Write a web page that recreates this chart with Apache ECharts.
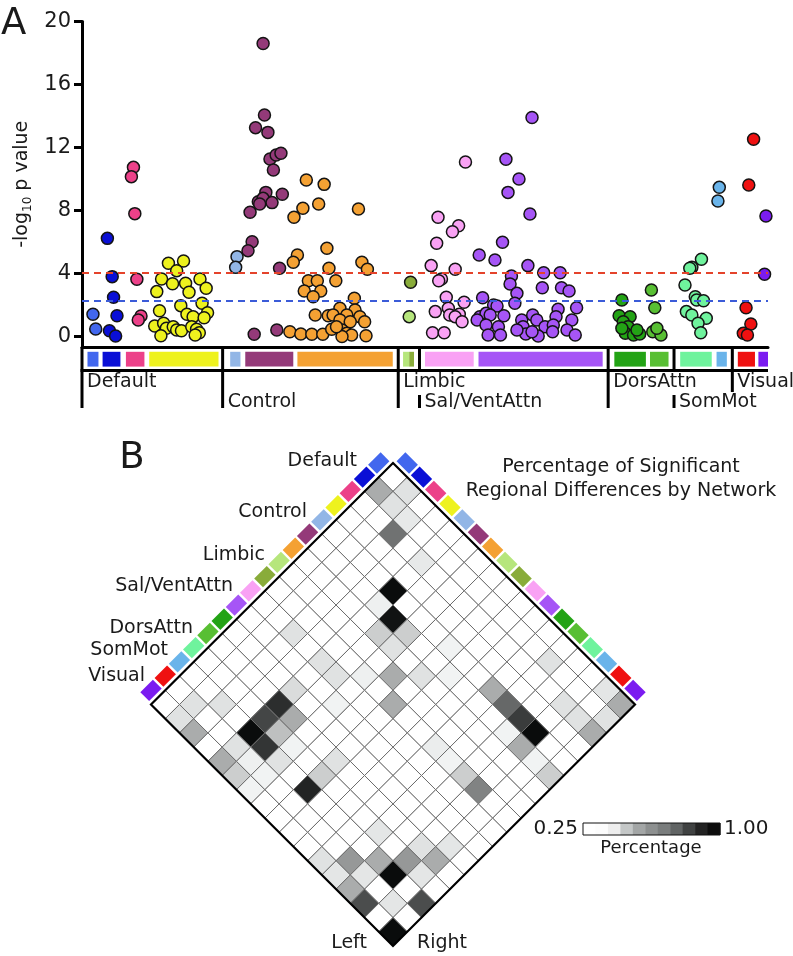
<!DOCTYPE html>
<html><head><meta charset="utf-8">
<script src="https://cdn.jsdelivr.net/npm/echarts@6/dist/echarts.min.js"></script>
<style>html,body{margin:0;padding:0;background:#fff}#chart{width:793px;height:956px}</style>
</head><body><div id="chart"></div>
<script>
// ================= DATA =================
// Panel A: x = position along the network axis (0-100), y = -log10 p value
const defaultA = [[1.6,1.41],[2.0,0.48]];
const defaultB = [[3.7,6.23],[4.4,3.80],[4.6,2.49],[5.1,1.32],[4.0,0.37],[4.9,0.03]];
const defaultC = [[7.5,10.74],[7.2,10.15],[7.7,7.80],[8.0,3.63],[8.6,1.30],[8.2,1.05]];
const defaultD = [[12.6,4.65],[14.8,4.79],[13.8,4.18],[11.6,3.65],[13.2,3.35],[10.9,2.85],[15.1,3.38],[15.6,2.81],[17.2,3.65],[18.1,3.06],[17.5,2.11],[14.4,1.96],[11.3,1.64],[15.3,1.41],[16.2,1.26],[18.3,1.51],[17.8,1.19],[10.6,0.67],[11.9,0.84],[12.3,0.52],[13.3,0.62],[13.8,0.41],[14.5,0.37],[16.0,0.62],[16.7,0.46],[17.1,0.24],[11.5,0.05],[16.5,0.10]];
const controlA = [[22.6,5.07],[22.4,4.39]];
const controlB = [[26.4,18.6],[26.6,14.06],[25.3,13.26],[27.1,12.96],[27.4,11.27],[28.3,11.52],[29.0,11.63],[27.9,10.57],[26.8,9.15],[29.2,9.03],[25.7,8.56],[26.4,8.77],[27.7,8.50],[25.9,8.41],[24.5,7.89],[24.8,6.02],[24.2,5.45],[28.8,4.33],[25.1,0.14],[28.4,0.41]];
const controlC = [[32.7,9.94],[35.3,9.66],[32.2,8.14],[34.5,8.41],[40.3,8.10],[30.9,7.57],[35.7,5.60],[31.4,5.17],[30.8,4.71],[36.0,4.33],[40.8,4.71],[41.6,4.27],[33.0,3.54],[34.3,3.54],[37.0,3.54],[32.4,2.89],[34.8,2.89],[33.7,2.53],[39.7,2.43],[34.0,1.37],[35.9,1.32],[37.6,1.79],[36.6,1.37],[39.8,1.68],[38.6,1.37],[40.5,1.26],[37.6,1.05],[39.1,0.94],[41.2,0.94],[30.3,0.30],[31.9,0.16],[33.5,0.14],[35.1,0.14],[36.4,0.46],[37.9,0.41],[38.6,0.20],[39.3,0.10],[37.9,0.00],[41.4,0.05],[37.1,0.62]];
const limbicA = [[47.7,1.26]];
const limbicB = [[47.9,3.44]];
const salA = [[55.9,11.08],[51.9,7.57],[54.9,7.03],[54.0,6.65],[51.7,5.92],[50.9,4.50],[54.4,4.27],[52.4,3.65],[52.0,3.54],[53.1,2.49],[55.7,2.17],[53.4,1.79],[51.5,1.58],[53.6,1.37],[55.0,1.41],[54.4,1.26],[55.4,0.94],[51.1,0.24],[52.8,0.24]];
const salB = [[65.6,13.9],[61.8,11.25],[63.7,10.0],[62.1,9.15],[65.3,7.78],[61.3,5.98],[57.9,5.17],[60.2,4.86],[65.0,4.50],[67.3,4.05],[69.7,4.05],[62.6,3.84],[62.4,3.33],[67.1,3.10],[69.9,3.10],[71.0,2.89],[63.4,2.74],[58.4,2.46],[63.1,2.11],[60.0,2.00],[60.5,1.94],[72.1,1.83],[69.4,1.73],[58.0,1.26],[58.9,1.47],[59.5,1.37],[61.5,1.32],[64.1,1.05],[65.7,1.37],[66.3,1.05],[69.1,1.26],[71.4,1.05],[57.6,1.05],[58.9,0.73],[60.7,0.62],[64.3,0.62],[67.5,0.62],[68.7,0.73],[70.7,0.41],[59.2,0.10],[61.0,0.10],[64.7,0.16],[66.5,0.03],[68.6,0.30],[71.9,0.10],[63.4,0.41],[65.6,0.30]];
const dorsA = [[78.7,2.32],[78.3,1.32],[79.9,1.26],[78.9,0.94],[79.6,0.62],[79.2,0.20],[80.4,0.10],[81.3,0.16],[80.9,0.41],[78.7,0.52]];
const dorsB = [[83.0,2.95],[83.5,1.83],[83.2,0.30],[84.4,0.10],[83.8,0.52]];
const somA = [[90.3,4.90],[88.9,4.39],[88.6,4.33],[87.9,3.27],[89.4,2.53],[89.6,2.32],[90.6,2.27],[88.1,1.58],[88.9,1.37],[91.0,1.16],[89.8,0.84],[90.2,0.24]];
const somB = [[92.9,9.47],[92.7,8.60]];
const visA = [[97.9,12.52],[97.2,9.62],[96.8,1.83],[97.5,0.79],[96.4,0.20],[97.0,0.10]];
const visB = [[99.7,7.65],[99.5,3.95]];

const subnetPoints = [defaultA, defaultB, defaultC, defaultD, controlA, controlB, controlC, limbicA, limbicB, salA, salB, dorsA, dorsB, somA, somB, visA, visB];
// span of each sub-network on the x axis (colour strip)
const subnetSpan = [[0.8,2.4],[3.0,5.6],[6.4,9.1],[9.8,19.9],[21.6,23.1],[23.8,30.8],[31.4,45.3],[46.8,47.7],[47.7,48.4],[50.0,57.1],[57.8,75.9],[77.6,82.2],[82.8,85.5],[87.2,91.8],[92.5,94.0],[95.6,98.1],[98.6,100.0]];
const networkNames = ['Default','Control','Limbic','Sal/VentAttn','DorsAttn','SomMot','Visual'];
const networkStart = [0, 20.5, 46.1, 49.2, 76.7, 86.3, 94.8];
const yTicks = [0, 4, 8, 12, 16, 20];
const thresholdRed = 4.05;
const thresholdBlue = 2.27;

// Panel B: rows = left-hemisphere sub-network, columns = right-hemisphere sub-network
const heatMatrix = [
  [0,0.34,0,0,0,0,0,0,0,0,0,0,0,0,0,0.33,0.50],
  [0.50,0.34,0.32,0,0,0,0,0,0,0,0,0,0.34,0,0,0,0.34],
  [0,0,0.67,0,0.32,0,0,0,0,0,0,0,0,0,0.34,0.34,0.50],
  [0,0,0,0,0,0,0,0,0,0,0,0,0,0,0,0,0],
  [0,0,0,0,0.97,0,0,0,0.29,0,0,0.50,0.70,0.83,0.97,0,0],
  [0,0,0,0,0.30,0.95,0.40,0,0,0.29,0,0,0,0.29,0.50,0.29,0.40],
  [0,0,0,0,0,0.40,0.34,0,0.34,0,0,0,0,0,0,0,0],
  [0,0,0,0,0,0,0,0.50,0,0,0,0,0,0,0,0,0],
  [0,0,0,0,0,0,0.30,0,0.50,0,0,0.31,0.29,0.40,0.62,0,0],
  [0,0,0.34,0,0.34,0.34,0,0,0,0,0,0,0,0,0,0,0],
  [0,0,0,0,0,0,0.29,0,0,0,0,0,0,0,0,0,0],
  [0,0,0,0,0.36,0,0,0,0,0,0,0,0,0,0,0.33,0],
  [0,0,0,0,0.87,0.50,0,0,0.34,0,0,0,0,0,0.34,0.50,0],
  [0,0,0,0,0.80,0.44,0.29,0,0.40,0,0,0,0.33,0,0.56,0.33,0],
  [0,0,0.34,0,0.97,0.85,0.34,0,0.90,0,0,0,0,0.50,0.97,0,0.78],
  [0,0.34,0,0,0.34,0.30,0.29,0,0,0,0,0,0.56,0.33,0,0.33,0],
  [0,0.34,0.50,0,0.50,0.40,0.29,0,0,0,0,0.34,0.33,0.50,0.78,0,0.97]
];
const colorbarRange = [0.25, 1.00];
const colorbarLabels = ['0.25', '1.00'];

// ================= STYLE =================
const subnetColors = ['#4267ee','#0a0fd6','#ec4189','#eef21e','#92b6e6','#943a79','#f4a133','#b6e67c','#89ac3a','#f9a2f4','#a655f6','#23a315','#58bf33','#6ff39d','#6ab4ea','#ef1111','#7b1cf0'];
const colorbarColors = ['#ffffff','#fcfcfc','#eeeeee','#c4c7c7','#a3a6a6','#8d9090','#7a7d7d','#616464','#404242','#232323','#0d0d0d'];
const dividerKind = ['long','long','long','short','long','short','mid'];
const labelRow = [1,2,1,2,1,2,1];
const FONT = '"DejaVu Sans", sans-serif';
const TXT = '#1a1a1a';

function heatColor(v) {
  if (v <= 0.25) return '#ffffff';
  const t = Math.min(1, (v - 0.25) / 0.75);
  const g = Math.round(255 * (1 - t));
  return 'rgb(' + g + ',' + Math.min(255, g + 2) + ',' + Math.min(255, g + 2) + ')';
}

const chart = echarts.init(document.getElementById('chart'), null, {renderer: 'canvas', width: 793, height: 956});

const scatterSeries = subnetPoints.map((pts, i) => ({
  type: 'scatter', xAxisIndex: 0, yAxisIndex: 0, data: pts, symbolSize: 12, silent: true, z: 3,
  itemStyle: {color: subnetColors[i], borderColor: '#141414', borderWidth: 1.5, opacity: 1}
}));

const thresholdSeries = {
  type: 'line', xAxisIndex: 0, yAxisIndex: 0, data: [], z: 2, silent: true,
  markLine: {
    silent: true, symbol: 'none', label: {show: false}, animation: false,
    data: [
      {yAxis: thresholdRed, lineStyle: {color: '#e4432b', width: 2, type: [7, 5]}},
      {yAxis: thresholdBlue, lineStyle: {color: '#3b5bd8', width: 2, type: [7, 5]}}
    ]
  }
};

// strips + dividers + network labels under panel A (grid 1, y units = px below the axis)
const stripSeries = {
  type: 'custom', xAxisIndex: 1, yAxisIndex: 1, clip: false, silent: true, z: 3,
  data: subnetSpan.map((s, i) => [s[0], s[1], i]),
  renderItem: function (params, api) {
    const i = api.value(2);
    const p0 = api.coord([api.value(0), 4.8]);
    const p1 = api.coord([api.value(1), 19.6]);
    return {type: 'rect', shape: {x: p0[0], y: p0[1], width: p1[0] - p0[0], height: p1[1] - p0[1]}, style: {fill: subnetColors[i]}};
  }
};
const dividerSeries = {
  type: 'custom', xAxisIndex: 1, yAxisIndex: 1, clip: false, silent: true, z: 4,
  data: networkStart.map((x, i) => [x, i]),
  renderItem: function (params, api) {
    const i = api.value(1);
    const x = api.value(0);
    const kind = dividerKind[i];
    const children = [];
    const ls = {stroke: '#000', lineWidth: 3};
    const top = api.coord([x, 0]);
    const endY = kind === 'long' ? 61 : (kind === 'mid' ? 45 : 23.5);
    const end = api.coord([x, endY]);
    children.push({type: 'line', shape: {x1: top[0], y1: top[1], x2: end[0], y2: end[1]}, style: ls});
    if (kind === 'short') {
      const s0 = api.coord([x, 48]);
      const s1 = api.coord([x, 61]);
      children.push({type: 'line', shape: {x1: s0[0], y1: s0[1], x2: s1[0], y2: s1[1]}, style: ls});
    }
    const ly = labelRow[i] === 1 ? 35.5 : 55.0;
    const lp = api.coord([x, ly]);
    children.push({type: 'text', x: lp[0] + 5, y: lp[1], style: {text: networkNames[i], font: '19px ' + FONT, fill: TXT, textAlign: 'left', textVerticalAlign: 'middle', align: 'left', verticalAlign: 'middle'}});
    return {type: 'group', children: children};
  }
};
const baseLineSeries = {
  type: 'custom', xAxisIndex: 1, yAxisIndex: 1, clip: false, silent: true, z: 4,
  data: [[0, 100]],
  renderItem: function (params, api) {
    const a = api.coord([api.value(0), 23.5]);
    const b = api.coord([api.value(1), 23.5]);
    return {type: 'line', shape: {x1: a[0] - 1.5, y1: a[1], x2: b[0], y2: b[1]}, style: {stroke: '#000', lineWidth: 3}};
  }
};

// Panel B diamond heatmap (grid 2): X = b - a, Y = a + b (corner coordinates)
const heatData = [];
for (let a = 0; a < heatMatrix.length; a++) {
  for (let b = 0; b < heatMatrix[a].length; b++) heatData.push([a, b, heatMatrix[a][b]]);
}
function dpt(api, p, q) { return api.coord([q - p, p + q]); }
const heatSeries = {
  type: 'custom', xAxisIndex: 2, yAxisIndex: 2, clip: false, silent: true, z: 3,
  data: heatData,
  renderItem: function (params, api) {
    const a = api.value(0), b = api.value(1), v = api.value(2);
    return {type: 'polygon', shape: {points: [dpt(api, a, b), dpt(api, a, b + 1), dpt(api, a + 1, b + 1), dpt(api, a + 1, b)]},
      style: {fill: heatColor(v), stroke: '#6c6c6c', lineWidth: 1}};
  }
};
const n = heatMatrix.length;
const borderSeries = {
  type: 'custom', xAxisIndex: 2, yAxisIndex: 2, clip: false, silent: true, z: 5,
  data: [[n]],
  renderItem: function (params, api) {
    const m = api.value(0);
    return {type: 'polygon', shape: {points: [dpt(api, 0, 0), dpt(api, 0, m), dpt(api, m, m), dpt(api, m, 0)]},
      style: {fill: 'none', stroke: '#000', lineWidth: 2.2}};
  }
};
const edgeStripSeries = {
  type: 'custom', xAxisIndex: 2, yAxisIndex: 2, clip: false, silent: true, z: 4,
  data: subnetColors.map((c, i) => [i]),
  renderItem: function (params, api) {
    const i = api.value(0);
    const g0 = 0.06, g1 = 0.94, t1 = -0.19, t2 = -0.81;
    return {type: 'group', children: [
      {type: 'polygon', shape: {points: [dpt(api, i + g0, t1), dpt(api, i + g1, t1), dpt(api, i + g1, t2), dpt(api, i + g0, t2)]}, style: {fill: subnetColors[i]}},
      {type: 'polygon', shape: {points: [dpt(api, t1, i + g0), dpt(api, t1, i + g1), dpt(api, t2, i + g1), dpt(api, t2, i + g0)]}, style: {fill: subnetColors[i]}}
    ]};
  }
};
// colour bar (grid 3)
const colorbarSeries = {
  type: 'custom', xAxisIndex: 3, yAxisIndex: 3, clip: false, silent: true, z: 3,
  data: colorbarColors.map((c, i) => [i]),
  renderItem: function (params, api) {
    const i = api.value(0);
    const step = (colorbarRange[1] - colorbarRange[0]) / colorbarColors.length;
    const p0 = api.coord([colorbarRange[0] + i * step, 1]);
    const p1 = api.coord([colorbarRange[0] + (i + 1) * step, 0]);
    return {type: 'rect', shape: {x: p0[0], y: p0[1], width: p1[0] - p0[0] + 0.5, height: p1[1] - p0[1]}, style: {fill: colorbarColors[i]}};
  }
};
const colorbarBorder = {
  type: 'custom', xAxisIndex: 3, yAxisIndex: 3, clip: false, silent: true, z: 4,
  data: [[colorbarRange[0], colorbarRange[1]]],
  renderItem: function (params, api) {
    const p0 = api.coord([api.value(0), 1]);
    const p1 = api.coord([api.value(1), 0]);
    return {type: 'rect', shape: {x: p0[0], y: p0[1], width: p1[0] - p0[0], height: p1[1] - p0[1]}, style: {fill: 'none', stroke: '#111', lineWidth: 1}};
  }
};

function txt(text, x, y, size, align) {
  return {type: 'text', x: x, y: y, silent: true, z: 10,
    style: {text: text, font: size + 'px ' + FONT, fill: TXT, textAlign: align || 'left', textVerticalAlign: 'middle', align: align || 'left', verticalAlign: 'middle'}};
}

const option = {
  animation: false,
  backgroundColor: '#ffffff',
  grid: [
    {left: 82, top: 21.5, width: 686, height: 325.5},
    {left: 82, top: 347, width: 686, height: 62},
    {left: 151, top: 463, width: 484, height: 483},
    {left: 583, top: 823, width: 137, height: 12}
  ],
  xAxis: [
    {gridIndex: 0, type: 'value', min: 0, max: 100,
      axisLine: {show: true, onZero: false, lineStyle: {color: '#000', width: 3}},
      axisTick: {show: false}, axisLabel: {show: false}, splitLine: {show: false}},
    {gridIndex: 1, type: 'value', min: 0, max: 100, show: false},
    {gridIndex: 2, type: 'value', min: -17, max: 17, show: false},
    {gridIndex: 3, type: 'value', min: 0.25, max: 1, show: false}
  ],
  yAxis: [
    {gridIndex: 0, type: 'value', min: -0.667, max: 20,
      axisLine: {show: true, onZero: false, lineStyle: {color: '#000', width: 3}},
      axisTick: {show: true, length: 8, customValues: yTicks, lineStyle: {color: '#000', width: 3}},
      axisLabel: {customValues: yTicks, fontSize: 21, fontFamily: 'DejaVu Sans', color: TXT, margin: 11},
      splitLine: {show: false},
      name: '{a|-log}{s|10}{a| p value}', nameLocation: 'middle', nameGap: 46,
      nameTextStyle: {color: TXT, rich: {
        a: {fontSize: 19, fontFamily: 'DejaVu Sans', color: TXT},
        s: {fontSize: 12, fontFamily: 'DejaVu Sans', color: TXT, padding: [10, 0, 0, 0]}
      }}},
    {gridIndex: 1, type: 'value', min: 0, max: 62, inverse: true, show: false},
    {gridIndex: 2, type: 'value', min: 0, max: 34, inverse: true, show: false},
    {gridIndex: 3, type: 'value', min: 0, max: 1, show: false}
  ],
  series: [thresholdSeries].concat(scatterSeries, [stripSeries, dividerSeries, baseLineSeries, heatSeries, edgeStripSeries, borderSeries, colorbarSeries, colorbarBorder]),
  graphic: {elements: [
    txt('A', 1, 24, 37),
    txt('B', 132, 458, 37, 'center'),
    txt('Percentage of Significant', 621, 467, 19, 'center'),
    txt('Regional Differences by Network', 621, 491, 19, 'center'),
    txt('Default', 357, 461, 19, 'right'),
    txt('Control', 307, 512, 19, 'right'),
    txt('Limbic', 265, 555, 19, 'right'),
    txt('Sal/VentAttn', 233, 586, 19, 'right'),
    txt('DorsAttn', 193, 628, 19, 'right'),
    txt('SomMot', 168, 650, 19, 'right'),
    txt('Visual', 145, 676, 19, 'right'),
    txt('Left', 349, 943, 19, 'center'),
    txt('Right', 442, 943, 19, 'center'),
    txt(colorbarLabels[0], 578, 829, 20, 'right'),
    txt(colorbarLabels[1], 724, 829, 20, 'left'),
    txt('Percentage', 651, 848, 18, 'center')
  ]}
};
chart.setOption(option);
</script></body></html>
